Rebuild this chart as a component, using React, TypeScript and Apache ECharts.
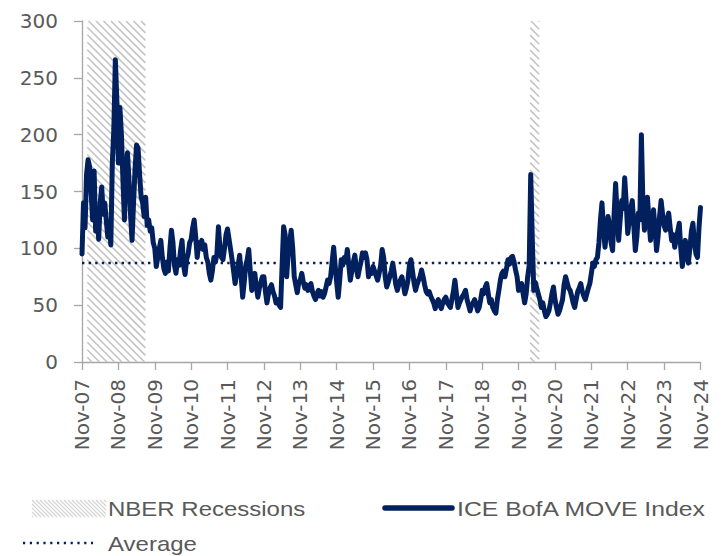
import React, { useEffect, useRef } from "react";
import * as echarts from "echarts";

// ---- Data -------------------------------------------------------------
// x axis tick labels (one per year, every 12 months from Nov-07)
const X_TICK_LABELS = [
  "Nov-07", "Nov-08", "Nov-09", "Nov-10", "Nov-11", "Nov-12", "Nov-13", "Nov-14", "Nov-15",
  "Nov-16", "Nov-17", "Nov-18", "Nov-19", "Nov-20", "Nov-21", "Nov-22", "Nov-23", "Nov-24",
];
const MONTHS_PER_TICK = 12;
const Y_MIN = 0;
const Y_MAX = 300;
const Y_STEP = 50;

// ICE BofA MOVE Index, semi-monthly readings starting Nov-07 (two per month)
const POINTS_PER_MONTH = 2;
const MOVE_NOV07_OCT08 = [95, 140, 118, 165, 178, 172, 150, 125, 168, 115, 130, 108, 140, 154, 130, 140, 125, 110, 120, 103, 175, 205, 266, 230];
const MOVE_NOV08_OCT09 = [175, 224, 200, 160, 125, 165, 184, 160, 130, 107, 140, 170, 191, 188, 165, 145, 140, 128, 145, 120, 125, 115, 118, 105];
const MOVE_NOV09_OCT10 = [100, 84, 92, 100, 107, 92, 82, 78, 88, 80, 100, 116, 105, 85, 78, 90, 85, 98, 107, 85, 77, 90, 95, 105];
const MOVE_NOV10_OCT11 = [108, 118, 125, 110, 92, 105, 100, 107, 99, 103, 92, 88, 78, 72, 80, 92, 88, 95, 119, 100, 92, 90, 100, 112];
const MOVE_NOV11_OCT12 = [117, 108, 99, 90, 80, 69, 78, 85, 94, 75, 57, 70, 85, 90, 99, 80, 63, 72, 78, 66, 57, 65, 70, 75];
const MOVE_NOV12_OCT13 = [75, 62, 52, 60, 65, 68, 62, 58, 52, 55, 50, 48, 85, 119, 112, 75, 95, 105, 116, 100, 75, 68, 61, 70];
const MOVE_NOV13_OCT14 = [72, 78, 70, 65, 68, 63, 66, 69, 62, 58, 55, 60, 63, 58, 62, 57, 60, 66, 72, 69, 75, 88, 101, 85];
const MOVE_NOV14_OCT15 = [70, 57, 72, 90, 85, 92, 88, 99, 85, 72, 80, 88, 94, 82, 75, 82, 88, 96, 92, 96, 90, 75, 80, 78];
const MOVE_NOV15_OCT16 = [84, 80, 76, 72, 78, 85, 99, 92, 75, 66, 70, 75, 80, 87, 78, 68, 63, 68, 72, 75, 68, 60, 65, 72];
const MOVE_NOV16_OCT17 = [85, 90, 80, 70, 63, 68, 72, 75, 81, 75, 68, 62, 60, 62, 58, 55, 52, 47, 52, 55, 50, 47, 52, 55];
const MOVE_NOV17_OCT18 = [57, 52, 50, 48, 55, 62, 72, 60, 48, 52, 55, 58, 60, 63, 55, 50, 45, 50, 52, 55, 50, 45, 48, 55];
const MOVE_NOV18_OCT19 = [63, 60, 66, 69, 60, 52, 55, 48, 45, 43, 55, 63, 72, 78, 80, 75, 82, 90, 86, 92, 93, 88, 81, 75];
const MOVE_NOV19_OCT20 = [63, 66, 69, 60, 52, 60, 75, 85, 165, 110, 63, 70, 65, 60, 55, 48, 52, 45, 40, 42, 45, 52, 60, 66];
const MOVE_NOV20_OCT21 = [55, 48, 42, 45, 50, 55, 68, 75, 70, 65, 63, 58, 52, 48, 55, 62, 65, 69, 62, 58, 55, 60, 65, 69];
const MOVE_NOV21_OCT22 = [78, 87, 84, 90, 92, 105, 125, 140, 118, 101, 115, 128, 120, 105, 98, 130, 157, 130, 107, 125, 142, 135, 162, 140];
const MOVE_NOV22_OCT23 = [113, 125, 135, 142, 120, 98, 110, 131, 125, 200, 140, 116, 130, 145, 125, 107, 120, 134, 118, 98, 110, 128, 142, 130];
const MOVE_NOV23_NOV24 = [120, 116, 125, 131, 118, 107, 112, 101, 108, 115, 122, 100, 84, 95, 107, 95, 87, 100, 115, 122, 105, 95, 92, 118, 136];

const MOVE_AVERAGE = 87;

// NBER recessions, in months since Nov-07 [start, end]
const RECESSIONS: [number, number][] = [
  [1.75, 20.9],
  [147.8, 150.8],
];

// ---- Styles -----------------------------------------------------------
const NAVY = "#02205e";
const TEXT = "#595959";
const AXIS = "#a6a6a6";
const HATCH = "#c4c4c4";

function hatch(x0: number, y0: number, x1: number, y1: number, step: number, stroke: string, lw: number) {
  const out: any[] = [];
  const kStart = Math.floor((y0 - x1) / step) * step;
  for (let k = kStart; k <= y1 - x0; k += step) {
    const xa = Math.max(x0, y0 - k);
    const xb = Math.min(x1, y1 - k);
    if (xb > xa) {
      out.push({
        type: "line",
        silent: true,
        shape: { x1: xa, y1: xa + k, x2: xb, y2: xb + k },
        style: { stroke, lineWidth: lw },
      });
    }
  }
  return out;
}

export default function App() {
  const ref = useRef<HTMLDivElement>(null);

  useEffect(() => {
    if (!ref.current) return;
    const chart = echarts.init(ref.current, undefined, { renderer: "svg" });

    const allValues = [
      ...MOVE_NOV07_OCT08, ...MOVE_NOV08_OCT09, ...MOVE_NOV09_OCT10, ...MOVE_NOV10_OCT11,
      ...MOVE_NOV11_OCT12, ...MOVE_NOV12_OCT13, ...MOVE_NOV13_OCT14, ...MOVE_NOV14_OCT15,
      ...MOVE_NOV15_OCT16, ...MOVE_NOV16_OCT17, ...MOVE_NOV17_OCT18, ...MOVE_NOV18_OCT19,
      ...MOVE_NOV19_OCT20, ...MOVE_NOV20_OCT21, ...MOVE_NOV21_OCT22, ...MOVE_NOV22_OCT23,
      ...MOVE_NOV23_NOV24,
    ];
    const moveData = allValues.map((v, i) => [i / POINTS_PER_MONTH, v]);
    const xMax = (X_TICK_LABELS.length - 1) * MONTHS_PER_TICK;

    const legendFont = { fontSize: 20, fontFamily: "Liberation Sans", fill: TEXT, verticalAlign: "middle" as const };

    chart.setOption({
      animation: false,
      backgroundColor: "#ffffff",
      grid: { left: 82, right: 21.5, top: 21, bottom: 194, outerBoundsMode: "none", containLabel: false },
      xAxis: {
        type: "value",
        min: 0,
        max: xMax,
        interval: MONTHS_PER_TICK,
        axisLine: { show: true, lineStyle: { color: AXIS, width: 1.3 } },
        axisTick: { show: true, length: 8, lineStyle: { color: AXIS, width: 1.3 } },
        splitLine: { show: false },
        axisLabel: {
          rotate: 90,
          margin: 17,
          color: TEXT,
          fontSize: 20,
          fontFamily: "DejaVu Sans",
          showMinLabel: true,
          showMaxLabel: true,
          formatter: (v: number) => X_TICK_LABELS[Math.round(v / MONTHS_PER_TICK)] ?? "",
        },
      },
      yAxis: {
        type: "value",
        min: Y_MIN,
        max: Y_MAX,
        interval: Y_STEP,
        axisLine: { show: true, lineStyle: { color: AXIS, width: 1.3 } },
        axisTick: { show: true, length: 8, lineStyle: { color: AXIS, width: 1.3 } },
        splitLine: { show: false },
        axisLabel: { margin: 24, color: TEXT, fontSize: 20, fontFamily: "DejaVu Sans" },
      },
      series: [
        {
          name: "NBER Recessions",
          type: "custom",
          silent: true,
          z: 1,
          encode: { x: [0, 1], y: 2 },
          data: RECESSIONS.map(([s, e]) => [s, e, Y_MIN]),
          renderItem: (_params: any, api: any) => {
            const p0 = api.coord([api.value(0), Y_MAX]);
            const p1 = api.coord([api.value(1), Y_MIN]);
            return { type: "group", children: hatch(p0[0], p0[1], p1[0], p1[1], 7.5, HATCH, 1.6) };
          },
        },
        {
          name: "Average",
          type: "line",
          silent: true,
          z: 2,
          symbol: "none",
          data: [[0, MOVE_AVERAGE], [xMax, MOVE_AVERAGE]],
          lineStyle: { color: NAVY, width: 2.5, type: [2.4, 4.2] },
        },
        {
          name: "ICE BofA MOVE Index",
          type: "line",
          z: 3,
          symbol: "none",
          data: moveData,
          lineStyle: { color: NAVY, width: 5, join: "round", cap: "round" },
        },
      ],
      graphic: [
        { type: "group", silent: true, children: hatch(32, 500, 106, 517, 4, "#d2d2d2", 1.1) },
        { type: "text", x: 108, y: 509, scaleX: 1.2, style: { text: "NBER Recessions", ...legendFont } },
        { type: "line", shape: { x1: 385, y1: 508, x2: 452, y2: 508 }, style: { stroke: NAVY, lineWidth: 5.5, lineCap: "round" } },
        { type: "text", x: 457, y: 509, scaleX: 1.24, style: { text: "ICE BofA MOVE Index", ...legendFont } },
        { type: "line", shape: { x1: 23, y1: 543, x2: 93, y2: 543 }, style: { stroke: NAVY, lineWidth: 2.5, lineDash: [2.2, 4.6] } },
        { type: "text", x: 108, y: 544, scaleX: 1.2, style: { text: "Average", ...legendFont } },
      ],
    });

    return () => chart.dispose();
  }, []);

  return (
    <div
      ref={ref}
      style={{ position: "fixed", left: 0, top: 0, width: 722, height: 556, background: "#fff" }}
    />
  );
}
